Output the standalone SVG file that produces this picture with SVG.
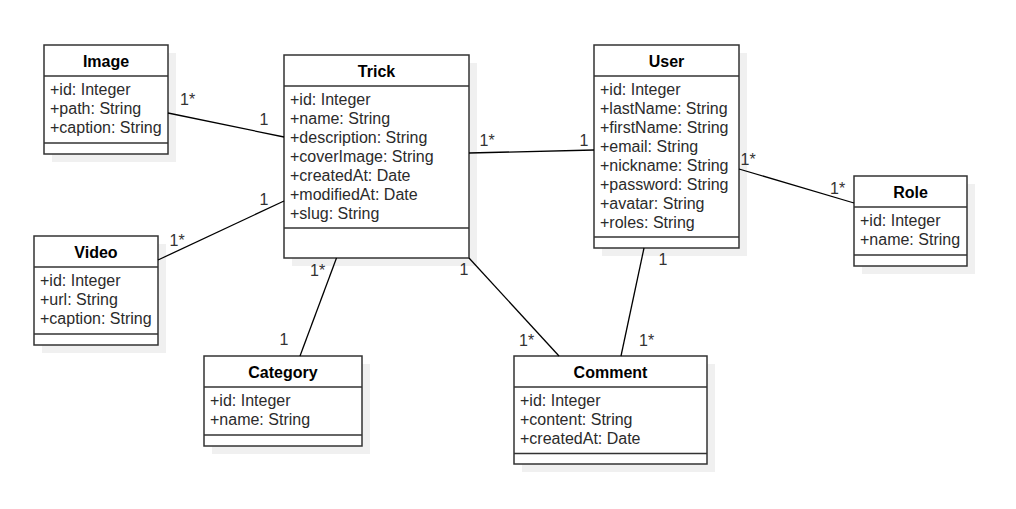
<svg xmlns="http://www.w3.org/2000/svg" width="1016" height="509" viewBox="0 0 1016 509">
<style>
.shadow{fill:#f0f0f0;stroke:none}
.box{fill:#ffffff;stroke:#333333;stroke-width:1.5}
.sep{stroke:#333333;stroke-width:1.5;fill:none}
.title{font-family:"Liberation Sans",Arial,sans-serif;font-size:16px;font-weight:bold;fill:#000000;text-anchor:middle}
.attr{font-family:"Liberation Sans",Arial,sans-serif;font-size:16px;fill:#2b2b2b}
.lbl{font-family:"Liberation Sans",Arial,sans-serif;font-size:16px;fill:#333333}
.edge{stroke:#000000;stroke-width:1.3;fill:none}
</style>
<rect width="1016" height="509" fill="#ffffff"/>

<g id="image">
<rect class="shadow" x="52" y="53" width="124" height="109"/>
<rect class="box" x="44" y="45" width="124" height="109"/>
<line class="sep" x1="44" y1="76" x2="168" y2="76"/>
<line class="sep" x1="44" y1="143" x2="168" y2="143"/>
<text class="title" x="106" y="67">Image</text>
<text class="attr" x="50" y="95">+id: Integer</text>
<text class="attr" x="50" y="114">+path: String</text>
<text class="attr" x="50" y="133">+caption: String</text>
</g>

<g id="trick">
<rect class="shadow" x="292" y="63" width="185" height="203"/>
<rect class="box" x="284" y="55" width="185" height="203"/>
<line class="sep" x1="284" y1="86" x2="469" y2="86"/>
<line class="sep" x1="284" y1="228" x2="469" y2="228"/>
<text class="title" x="376.5" y="77">Trick</text>
<text class="attr" x="290" y="105">+id: Integer</text>
<text class="attr" x="290" y="124">+name: String</text>
<text class="attr" x="290" y="143">+description: String</text>
<text class="attr" x="290" y="162">+coverImage: String</text>
<text class="attr" x="290" y="181">+createdAt: Date</text>
<text class="attr" x="290" y="200">+modifiedAt: Date</text>
<text class="attr" x="290" y="219">+slug: String</text>
</g>

<g id="user">
<rect class="shadow" x="602" y="53" width="145" height="203"/>
<rect class="box" x="594" y="45" width="145" height="203"/>
<line class="sep" x1="594" y1="76" x2="739" y2="76"/>
<line class="sep" x1="594" y1="237" x2="739" y2="237"/>
<text class="title" x="666.5" y="67">User</text>
<text class="attr" x="600" y="95">+id: Integer</text>
<text class="attr" x="600" y="114">+lastName: String</text>
<text class="attr" x="600" y="133">+firstName: String</text>
<text class="attr" x="600" y="152">+email: String</text>
<text class="attr" x="600" y="171">+nickname: String</text>
<text class="attr" x="600" y="190">+password: String</text>
<text class="attr" x="600" y="209">+avatar: String</text>
<text class="attr" x="600" y="228">+roles: String</text>
</g>

<g id="role">
<rect class="shadow" x="862" y="184" width="113" height="90"/>
<rect class="box" x="854" y="176" width="113" height="90"/>
<line class="sep" x1="854" y1="207" x2="967" y2="207"/>
<line class="sep" x1="854" y1="255" x2="967" y2="255"/>
<text class="title" x="910.5" y="198">Role</text>
<text class="attr" x="860" y="226">+id: Integer</text>
<text class="attr" x="860" y="245">+name: String</text>
</g>

<g id="video">
<rect class="shadow" x="42" y="244" width="124" height="109"/>
<rect class="box" x="34" y="236" width="124" height="109"/>
<line class="sep" x1="34" y1="267" x2="158" y2="267"/>
<line class="sep" x1="34" y1="334" x2="158" y2="334"/>
<text class="title" x="96" y="258">Video</text>
<text class="attr" x="40" y="286">+id: Integer</text>
<text class="attr" x="40" y="305">+url: String</text>
<text class="attr" x="40" y="324">+caption: String</text>
</g>

<g id="category">
<rect class="shadow" x="212" y="364" width="158" height="90"/>
<rect class="box" x="204" y="356" width="158" height="90"/>
<line class="sep" x1="204" y1="387" x2="362" y2="387"/>
<line class="sep" x1="204" y1="435" x2="362" y2="435"/>
<text class="title" x="283" y="378">Category</text>
<text class="attr" x="210" y="406">+id: Integer</text>
<text class="attr" x="210" y="425">+name: String</text>
</g>

<g id="comment">
<rect class="shadow" x="522" y="364" width="193" height="108"/>
<rect class="box" x="514" y="356" width="193" height="108"/>
<line class="sep" x1="514" y1="387" x2="707" y2="387"/>
<line class="sep" x1="514" y1="453.5" x2="707" y2="453.5"/>
<text class="title" x="610.5" y="378">Comment</text>
<text class="attr" x="520" y="406">+id: Integer</text>
<text class="attr" x="520" y="425">+content: String</text>
<text class="attr" x="520" y="444">+createdAt: Date</text>
</g>

<g id="connectors">
<line class="edge" x1="168" y1="113" x2="284" y2="137"/>
<line class="edge" x1="158" y1="260" x2="284" y2="201"/>
<line class="edge" x1="469" y1="153" x2="594" y2="150"/>
<line class="edge" x1="739" y1="169" x2="854" y2="203"/>
<line class="edge" x1="336.5" y1="258" x2="300" y2="356"/>
<line class="edge" x1="469" y1="258" x2="559" y2="356"/>
<line class="edge" x1="644" y1="248" x2="621" y2="356"/>
<text class="lbl" x="180" y="105">1*</text>
<text class="lbl" x="259.5" y="125">1</text>
<text class="lbl" x="169.5" y="246">1*</text>
<text class="lbl" x="259.5" y="205">1</text>
<text class="lbl" x="310" y="276">1*</text>
<text class="lbl" x="279.5" y="345">1</text>
<text class="lbl" x="459.5" y="275">1</text>
<text class="lbl" x="519" y="346">1*</text>
<text class="lbl" x="658.5" y="265">1</text>
<text class="lbl" x="639" y="346">1*</text>
<text class="lbl" x="479.5" y="146">1*</text>
<text class="lbl" x="579.5" y="146">1</text>
<text class="lbl" x="740.5" y="165">1*</text>
<text class="lbl" x="830" y="194">1*</text>
</g>
</svg>
